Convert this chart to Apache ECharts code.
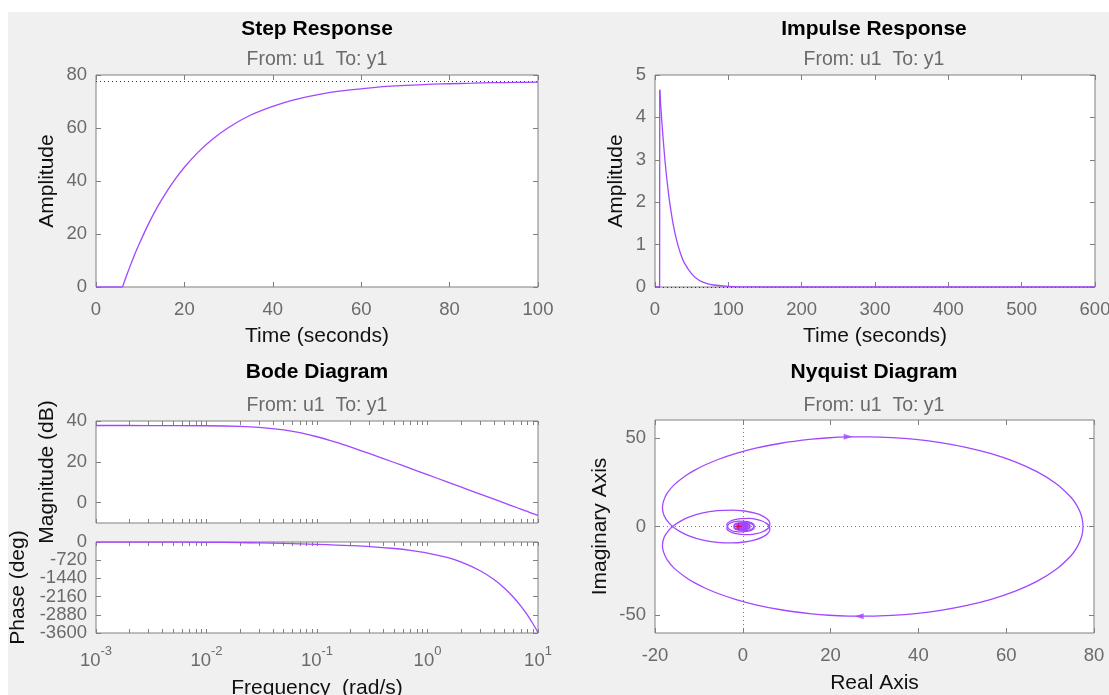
<!DOCTYPE html>
<html>
<head>
<meta charset="utf-8">
<script src="https://cdn.jsdelivr.net/npm/echarts@6/dist/echarts.min.js"></script>
<style>
html, body { margin: 0; padding: 0; background: #fff; }
#main { width: 1109px; height: 695px; }
</style>
</head>
<body>
<div id="main"></div>
<script>
// step response
var stepT = [0, 6, 7, 8, 9, 10, 12, 14, 16, 18, 20, 23, 26, 30, 35, 40, 45, 50, 55, 60, 65, 70, 75, 80, 85, 90, 95, 100];
var stepY = [0, 0, 4.7, 9.1, 13.3, 17.1, 24.2, 30.5, 36.0, 40.9, 45.2, 50.7, 55.3, 60.2, 64.9, 68.2, 70.7, 72.5, 73.9, 74.8, 75.6, 76.1, 76.5, 76.7, 76.9, 77.1, 77.2, 77.3];
var stepFinal = 77.5;

// impulse response
var impT = [0, 6.3, 6.5, 8, 10, 12.5, 15, 17.5, 20, 25, 30, 35, 40, 50, 60, 70, 80, 100, 120, 150, 600];
var impY = [0, 0, 4.65, 4.23, 3.74, 3.20, 2.73, 2.34, 2.00, 1.46, 1.07, 0.78, 0.57, 0.31, 0.16, 0.088, 0.047, 0.013, 0.004, 0, 0];

// bode
var bodeW = [0.001, 0.003, 0.01, 0.02, 0.03, 0.05, 0.07, 0.1, 0.15, 0.2, 0.3, 0.5, 0.7, 1, 1.5, 2, 3, 4, 5, 6, 7, 8, 9, 10];
var bodeMag = [37.79, 37.78, 37.68, 37.37, 36.89, 35.64, 34.26, 32.28, 29.49, 27.28, 23.98, 19.66, 16.77, 13.69, 10.18, 7.68, 4.16, 1.67, -0.27, -1.86, -3.19, -4.35, -5.38, -6.29];
var bodePhase = [-1.3, -3.8, -12.6, -24.7, -36.1, -56.2, -72.7, -93, -119.8, -142.5, -183, -257.7, -329.6, -435.9, -611.9, -787, -1137, -1487, -1837, -2186, -2536, -2886, -3235, -3585];
var bodeTicks = [0.001, 0.002, 0.003, 0.004, 0.005, 0.006, 0.007, 0.008, 0.009,
  0.01, 0.02, 0.03, 0.04, 0.05, 0.06, 0.07, 0.08, 0.09,
  0.1, 0.2, 0.3, 0.4, 0.5, 0.6, 0.7, 0.8, 0.9,
  1, 2, 3, 4, 5, 6, 7, 8, 9, 10];
var bodeLabels = [0.001, 0.01, 0.1, 1, 10];
var phaseTicks = [-3600, -2880, -2160, -1440, -720, 0];
// phase labels sit closer than their own height, so they go on two overlaid axes
var phaseLabelsA = [-2880, -1440, 0];
var phaseLabelsB = [-3600, -2160, -720];

// nyquist, positive frequencies (re, im)
var nyqPos = [
  [77.5, 0], [77.32, -4.26], [76.78, -8.47], [75.91, -12.60], [74.71, -16.60],
  [71.40, -24.10], [67.10, -30.76], [62.07, -36.41], [56.57, -41.01], [50.82, -44.60],
  [45.04, -47.25], [39.38, -49.04], [33.97, -50.09], [28.83, -50.53], [24.11, -50.45],
  [19.67, -49.99], [15.71, -49.17], [8.69, -46.91], [2.96, -44.10], [-1.70, -41.04],
  [-5.47, -37.89], [-8.51, -34.77], [-10.93, -31.75], [-12.87, -28.85], [-15.65, -23.46],
  [-17.25, -18.67], [-18.04, -14.46], [-18.31, -10.65], [-17.87, -5.82], [-16.78, -1.86],
  [-15.80, 0.38], [-14.07, 3.17], [-12.12, 5.37], [-9.33, 7.48], [-5.84, 8.92],
  [-2.53, 9.27], [0.40, 8.74], [2.79, 7.53], [4.57, 5.85], [5.68, 3.90],
  [6.16, 1.88], [6.04, -0.06], [5.40, -1.76], [4.38, -3.11], [3.08, -4.06],
  [1.63, -4.55], [-1.85, -3.86], [-3.63, -1.26], [-3.12, 1.54], [-1.01, 3.01],
  [1.31, 2.62], [2.58, 0.85], [2.25, -1.14], [0.73, -2.25], [-1.01, -1.98],
  [-2.00, -0.64], [-1.76, 0.91], [-0.57, 1.80], [0.83, 1.59], [1.63, 0.51],
  [1.45, -0.76], [0.47, -1.49], [-0.70, -1.33], [-1.38, -0.43], [-1.23, 0.65],
  [-0.40, 1.28], [0.60, 1.14], [1.19, 0.37], [1.07, -0.57], [0.35, -1.12],
  [-0.53, -1.00], [-1.05, -0.33], [-0.95, 0.50], [-0.31, 0.99], [0.47, 0.89],
  [0.94, 0.29], [0.85, -0.45], [0.28, -0.89], [-0.42, -0.81], [-0.85, -0.26],
  [-0.77, 0.40], [-0.25, 0.81], [0.39, 0.73], [0.78, 0.24], [0.70, -0.37],
  [0.23, -0.74], [-0.71, -0.22], [-0.21, 0.68], [0.66, 0.20], [0.20, -0.63],
  [-0.61, -0.19], [-0.18, 0.59], [0.57, 0.18], [0.17, -0.56], [-0.54, -0.17],
  [-0.16, 0.52], [0.51, 0.16], [0.15, -0.49], [-0.48, -0.15], [-0.14, 0.47]
];
var arrowPos = [26.5, -50.5];
var arrowNeg = [24, 50.5];
var critical = [-1, 0];

var FONT = '"Liberation Sans", Arial, Helvetica, sans-serif';
var LABEL = '#6a6a6a';
var NAME = '#111';
var BOX = '#808080';
var PURPLE = '#a247ff';

function zip(a, b) {
	return a.map(function(v, i) { return [v, b[i]]; });
}

function axis(gi, o, dim, mirror) {
	var a = {
		gridIndex: gi,
		type: o.type || 'value',
		min: o.min,
		max: o.max,
		position: dim === 'x' ? (mirror ? 'top' : 'bottom') : (mirror ? 'right' : 'left'),
		axisLine: { show: false, onZero: false },
		splitLine: { show: false },
		axisTick: { inside: true, length: o.tickLen || 5, lineStyle: { color: BOX, width: 1 } },
		axisLabel: {
			show: !mirror && !o.noLabel,
			color: LABEL,
			fontSize: 18.5,
			fontFamily: FONT,
			margin: o.margin || (dim === 'x' ? 13 : 9),
			interval: 0,
			showMinLabel: true,
			showMaxLabel: true,
			hideOverlap: false,
			formatter: function(v) { return String(v); }
		},
		silent: true
	};
	if (o.interval != null) a.interval = o.interval;
	if (o.logBase) a.logBase = o.logBase;
	if (o.ticks) a.axisTick.customValues = o.ticks;
	if (o.labels) a.axisLabel.customValues = o.labels;
	if (o.formatter) a.axisLabel.formatter = o.formatter;
	if (o.rich) a.axisLabel.rich = o.rich;
	if (!mirror && o.name) {
		a.name = o.name;
		a.nameLocation = 'middle';
		a.nameGap = o.nameGap;
		a.nameRotate = dim === 'y' ? 90 : 0;
		a.nameTextStyle = { color: NAME, fontSize: 21, fontFamily: FONT };
	}
	return a;
}

var xSpecs = [
	{ min: 0, max: 100, interval: 20, name: 'Time (seconds)', nameGap: 39 },
	{ min: 0, max: 600, interval: 100, name: 'Time (seconds)', nameGap: 39 },
	{ type: 'log', logBase: 10, min: 0.001, max: 10, ticks: bodeTicks, tickLen: 4, noLabel: true },
	{ type: 'log', logBase: 10, min: 0.001, max: 10, ticks: bodeTicks, tickLen: 4, labels: bodeLabels,
		name: 'Frequency  (rad/s)', nameGap: 45, margin: 12,
		formatter: function(v) {
			return '{b|10}{e|' + Math.round(Math.log(v) / Math.LN10) + '}';
		},
		rich: {
			b: { fontSize: 18.5, fontFamily: FONT, color: LABEL, padding: [6, 0, 0, 0] },
			e: { fontSize: 13, fontFamily: FONT, color: LABEL, verticalAlign: 'top' }
		}
	},
	{ min: -20, max: 80, interval: 20, name: 'Real Axis', nameGap: 40 }
];
var ySpecs = [
	{ min: 0, max: 80, interval: 20, name: 'Amplitude', nameGap: 38 },
	{ min: 0, max: 5, interval: 1, name: 'Amplitude', nameGap: 28 },
	{ min: -10, max: 40, ticks: [0, 20, 40], labels: [0, 20, 40], name: 'Magnitude (dB)', nameGap: 38 },
	{ min: -3600, max: 0, ticks: phaseTicks, labels: phaseLabelsA, name: 'Phase (deg)', nameGap: 67 },
	{ min: -60, max: 60, ticks: [-50, 0, 50], labels: [-50, 0, 50], name: 'Imaginary Axis', nameGap: 44 }
];

var grids = [
	{ left: 96, top: 75, width: 442, height: 212 },
	{ left: 655, top: 75, width: 440, height: 212 },
	{ left: 96, top: 421, width: 442, height: 102 },
	{ left: 96, top: 542, width: 442, height: 91 },
	{ left: 655, top: 420, width: 439, height: 213 }
];
grids.forEach(function(g) {
	g.show = true;
	g.backgroundColor = '#fff';
	g.borderColor = BOX;
	g.borderWidth = 1;
	g.containLabel = false;
	g.outerBoundsMode = 'none';
});

var xAxes = [], yAxes = [];
for (var i = 0; i < grids.length; i++) {
	xAxes.push(axis(i, xSpecs[i], 'x', false), axis(i, xSpecs[i], 'x', true));
	yAxes.push(axis(i, ySpecs[i], 'y', false), axis(i, ySpecs[i], 'y', true));
}
// second label set of the phase axis (index 10)
var phaseB = axis(3, { min: -3600, max: 0, labels: phaseLabelsB }, 'y', false);
phaseB.axisTick.show = false;
yAxes.push(phaseB);

var lineStyle = { color: PURPLE, width: 1.3 };
function dotted(color, data) {
	return {
		silent: true, symbol: 'none', z: 1,
		label: { show: false },
		lineStyle: { type: [1, 3], color: color, width: 1 },
		data: data
	};
}

var titles = [
	{ t: 'Step Response', x: 317, y: 29, bold: true },
	{ t: 'From: u1  To: y1', x: 317, y: 60 },
	{ t: 'Impulse Response', x: 874, y: 29, bold: true },
	{ t: 'From: u1  To: y1', x: 874, y: 60 },
	{ t: 'Bode Diagram', x: 317, y: 372, bold: true },
	{ t: 'From: u1  To: y1', x: 317, y: 406 },
	{ t: 'Nyquist Diagram', x: 874, y: 372, bold: true },
	{ t: 'From: u1  To: y1', x: 874, y: 406 }
];
var graphic = [
	{ type: 'rect', shape: { x: 0, y: 0, width: 1109, height: 12 }, style: { fill: '#fff' }, silent: true },
	{ type: 'rect', shape: { x: 0, y: 0, width: 8, height: 695 }, style: { fill: '#fff' }, silent: true }
];
titles.forEach(function(t) {
	graphic.push({
		type: 'text', x: t.x, y: t.y, silent: true,
		style: {
			text: t.t,
			font: (t.bold ? 'bold 21px ' : '19.5px ') + FONT,
			fill: t.bold ? '#000' : LABEL,
			align: 'center',
			verticalAlign: 'middle'
		}
	});
});

// the flat / vertical starts are drawn straight, the responses after them smoothed
var stepData = zip(stepT, stepY);
var impData = zip(impT, impY);

var chart = echarts.init(document.getElementById('main'));
chart.setOption({
	backgroundColor: '#f0f0f0',
	animation: false,
	grid: grids,
	xAxis: xAxes,
	yAxis: yAxes,
	graphic: graphic,
	series: [{
		type: 'line', xAxisIndex: 0, yAxisIndex: 0,
		data: stepData.slice(0, 2),
		showSymbol: false, clip: false, lineStyle: lineStyle,
		markLine: dotted('#333', [{ yAxis: stepFinal }])
	}, {
		type: 'line', xAxisIndex: 0, yAxisIndex: 0,
		data: stepData.slice(1),
		showSymbol: false, clip: false, smooth: 0.35, lineStyle: lineStyle
	}, {
		type: 'line', xAxisIndex: 2, yAxisIndex: 2,
		data: impData.slice(0, 3),
		showSymbol: false, clip: false, lineStyle: lineStyle,
		markLine: dotted('#333', [{ yAxis: 0 }])
	}, {
		type: 'line', xAxisIndex: 2, yAxisIndex: 2,
		data: impData.slice(2),
		showSymbol: false, clip: false, smooth: 0.35, lineStyle: lineStyle
	}, {
		type: 'line', xAxisIndex: 4, yAxisIndex: 4,
		data: zip(bodeW, bodeMag),
		showSymbol: false, clip: false, smooth: 0.3, lineStyle: lineStyle
	}, {
		type: 'line', xAxisIndex: 6, yAxisIndex: 6,
		data: zip(bodeW, bodePhase),
		showSymbol: false, clip: false, smooth: 0.3, lineStyle: lineStyle
	}, {
		type: 'line', xAxisIndex: 8, yAxisIndex: 8,
		data: nyqPos,
		showSymbol: false, clip: false, smooth: 0.3, lineStyle: lineStyle,
		markLine: dotted('#777', [{ xAxis: 0 }, { yAxis: 0 }])
	}, {
		type: 'line', xAxisIndex: 8, yAxisIndex: 8,
		data: nyqPos.map(function(p) { return [p[0], -p[1]]; }),
		showSymbol: false, clip: false, smooth: 0.3, lineStyle: lineStyle
	}, {
		type: 'scatter', xAxisIndex: 8, yAxisIndex: 8,
		data: [{ value: arrowPos, symbolRotate: 90 }, { value: arrowNeg, symbolRotate: -90 }],
		symbol: 'triangle', symbolSize: [6, 9],
		itemStyle: { color: PURPLE }, silent: true, z: 3
	}, {
		type: 'scatter', xAxisIndex: 8, yAxisIndex: 8,
		data: [critical],
		symbol: 'path://M0,5L10,5M5,0L5,10', symbolSize: 7,
		itemStyle: { color: 'transparent', borderColor: '#e0003c', borderWidth: 1 },
		silent: true, z: 4
	}]
});
</script>
</body>
</html>
